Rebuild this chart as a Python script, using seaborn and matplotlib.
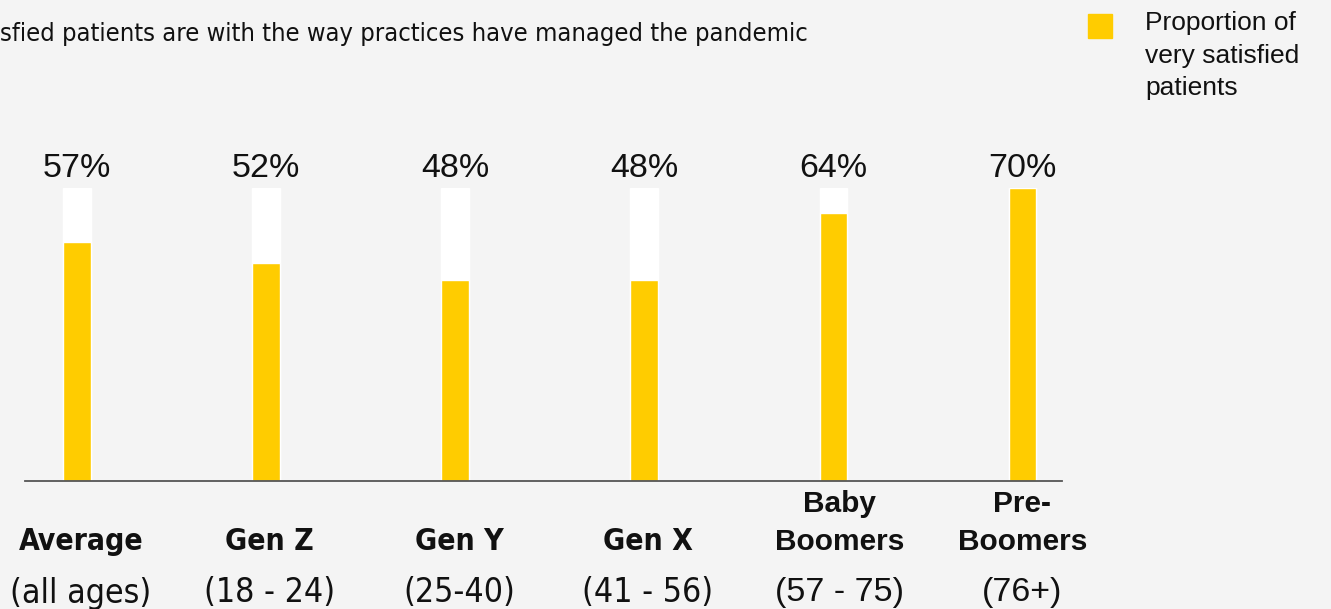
import matplotlib
matplotlib.use("Agg")
import matplotlib.pyplot as plt
import matplotlib.transforms as mtransforms
from matplotlib import font_manager as fm
import seaborn as sns
import pandas as pd

# données
groupes = ["Average", "Gen Z", "Gen Y", "Gen X", "Baby\nBoomers", "Pre-\nBoomers"]
tranches = ["(all ages)", "(18 - 24)", "(25-40)", "(41 - 56)", "(57 - 75)", "(76+)"]
tres_satisfaits = [57, 52, 48, 48, 64, 70]
legende = "Proportion of\nvery satisfied\npatients"
# le sous-titre est coupé à gauche sur l'image d'origine
sous_titre = "sfied patients are with the way practices have managed the pandemic"

jaune = "#FFCC00"
fond = "#F4F4F4"

# police étroite : on prend ce qui est installé
noms = {f.name for f in fm.fontManager.ttflist}
condensees = [f for f in fm.fontManager.ttflist
              if f.name == "DejaVu Sans" and "condensed" in str(f.stretch)]
if "Liberation Sans Narrow" in noms:
    etroite = dict(family=["Liberation Sans Narrow", "DejaVu Sans"])
    echelle = 1.0
elif condensees:
    etroite = dict(family=["DejaVu Sans"], fontstretch="condensed")
    echelle = 0.9
else:
    etroite = dict(family=["Liberation Sans", "DejaVu Sans"])
    echelle = 0.85

df = pd.DataFrame({"groupe": groupes, "valeur": tres_satisfaits})
df["max"] = max(tres_satisfaits)

sns.set_style("white")
plt.rcParams["font.family"] = ["Liberation Sans", "DejaVu Sans"]

W, H = 1331, 609
fig = plt.figure(figsize=(W / 100, H / 100), dpi=100, facecolor=fond)
ax = fig.add_axes([25 / W, (H - 481) / H, (1062 - 25) / W, (481 - 188) / H])
ax.set_facecolor(fond)

# barres blanches (fond) puis barres jaunes
sns.barplot(data=df, x="groupe", y="max", color="white", width=0.145, ax=ax,
            saturation=1, order=groupes)
sns.barplot(data=df, x="groupe", y="valeur", color=jaune, width=0.145, ax=ax,
            saturation=1, order=groupes)

ax.set_ylim(0, max(tres_satisfaits))
ax.set_xlim(-0.275, 5.21)
ax.set_xlabel("")
ax.set_ylabel("")
ax.set_yticks([])
ax.set_xticks([])
for s in ["top", "right", "left"]:
    ax.spines[s].set_visible(False)
ax.spines["bottom"].set_color("#555555")
ax.spines["bottom"].set_linewidth(1.3)

# étiquettes de pourcentage
ax.bar_label(ax.containers[0], labels=[f"{v}%" for v in tres_satisfaits],
             padding=3, fontsize=24.5, color="#111111")

# étiquettes des catégories (position x en données, y en pixels de la figure)
trans = mtransforms.blended_transform_factory(ax.transData, fig.transFigure)
for i, (g, t) in enumerate(zip(groupes, tranches)):
    if "\n" in g:
        dx = 0.035 if i == 4 else 0
        ax.text(i + dx, 1 - 523 / H, g, transform=trans, ha="center", va="center",
                fontsize=21.5, fontweight="bold", linespacing=1.42, clip_on=False,
                color="#111111")
        ax.text(i + dx, 1 - 593 / H, t, transform=trans, ha="center", va="center",
                fontsize=24.5, clip_on=False, color="#111111")
    else:
        ax.text(i + 0.02, 1 - 541 / H, g, transform=trans, ha="center", va="center",
                fontsize=24 * echelle, fontweight="bold", clip_on=False,
                color="#111111", **etroite)
        ax.text(i + 0.02, 1 - 593 / H, t, transform=trans, ha="center", va="center",
                fontsize=27 * echelle, clip_on=False, color="#111111", **etroite)

# sous-titre
fig.text(808 / W, 1 - 34 / H, sous_titre, ha="right", va="center",
         fontsize=20.35 * echelle, color="#111111", **etroite)

# légende
fig.patches.append(plt.Rectangle((1088 / W, 1 - 38 / H), 24 / W, 24 / H,
                                 transform=fig.transFigure, color=jaune))
fig.text(1145 / W, 1 - 11 / H, legende, ha="left", va="top", fontsize=19,
         linespacing=1.45, color="#111111")

fig.savefig("out.png", dpi=100, facecolor=fond)
